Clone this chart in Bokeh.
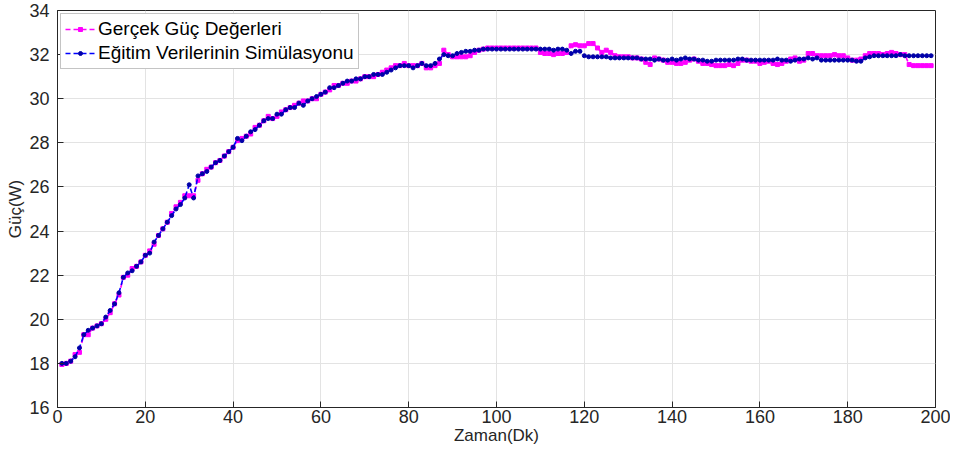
from bokeh.plotting import figure
from bokeh.models import ColumnDataSource, Range1d, FixedTicker, Legend, LegendItem
from bokeh.embed import file_html
from bokeh.resources import INLINE

# ---- data ----
zaman = list(range(1, 200))

gercek = [
    17.95, 18.0, 18.1, 18.4, 18.5, 19.3, 19.3, 19.6, 19.7, 19.8,
    20.0, 20.3, 20.7, 21.1, 21.9, 22.0, 22.3, 22.4, 22.6, 22.9,
    23.1, 23.4, 23.8, 24.1, 24.4, 24.8, 25.1, 25.3, 25.6, 25.6,
    25.6, 26.3, 26.6, 26.8, 26.9, 27.1, 27.2, 27.4, 27.6, 27.8,
    28.1, 28.2, 28.3, 28.4, 28.7, 28.8, 29.0, 29.2, 29.1, 29.2,
    29.4, 29.5, 29.6, 29.7, 29.8, 29.9, 29.9, 30.0, 30.0, 30.2,
    30.3, 30.4, 30.6, 30.6, 30.7, 30.7, 30.8, 30.8, 30.9, 31.0,
    31.0, 31.0, 31.1, 31.2, 31.3, 31.4, 31.5, 31.5, 31.6, 31.5,
    31.5, 31.5, 31.6, 31.4, 31.4, 31.5, 31.6, 32.2, 32.0, 31.9,
    31.9, 31.9, 31.9, 31.95, 32.1, 32.2, 32.25, 32.3, 32.3, 32.3,
    32.3, 32.3, 32.3, 32.3, 32.3, 32.3, 32.3, 32.3, 32.3, 32.1,
    32.05, 32.05, 32.0, 32.05, 32.05, 32.1, 32.4, 32.45, 32.4, 32.4,
    32.5, 32.5, 32.3, 32.1, 32.2, 32.1, 31.95, 31.9, 31.9, 31.9,
    31.85, 31.85, 31.8, 31.65, 31.55, 31.85, 31.8, 31.75, 31.65, 31.65,
    31.6, 31.6, 31.65, 31.75, 31.8, 31.7, 31.6, 31.6, 31.55, 31.5,
    31.5, 31.5, 31.55, 31.5, 31.6, 31.75, 31.75, 31.7, 31.7, 31.6,
    31.65, 31.7, 31.6, 31.55, 31.6, 31.7, 31.8, 31.85, 31.7, 31.75,
    32.05, 32.05, 31.95, 31.95, 31.95, 31.95, 32.0, 31.95, 31.95, 31.85,
    31.75, 31.75, 31.8, 31.95, 32.05, 32.05, 32.05, 32.0, 32.05, 32.1,
    32.05, 32.0, 32.0, 31.55, 31.5, 31.5, 31.5, 31.5, 31.5,
]

simulasyon = [
    18.0, 18.0, 18.1, 18.3, 18.7, 19.3, 19.5, 19.6, 19.7, 19.8,
    20.1, 20.4, 20.7, 21.2, 21.9, 22.1, 22.2, 22.4, 22.6, 22.9,
    23.0, 23.5, 23.8, 24.1, 24.4, 24.7, 25.0, 25.2, 25.5, 26.1,
    25.5, 26.5, 26.6, 26.7, 26.9, 27.1, 27.2, 27.4, 27.6, 27.8,
    28.2, 28.1, 28.3, 28.5, 28.6, 28.8, 29.0, 29.1, 29.1, 29.3,
    29.3, 29.5, 29.6, 29.6, 29.8, 29.7, 29.9, 30.0, 30.1, 30.2,
    30.3, 30.5, 30.5, 30.6, 30.7, 30.8, 30.8, 30.9, 30.9, 31.0,
    31.0, 31.1, 31.1, 31.1, 31.2, 31.3, 31.4, 31.5, 31.5, 31.5,
    31.4, 31.5, 31.6, 31.5, 31.5, 31.6, 31.8, 32.0, 31.95, 31.95,
    32.05, 32.1, 32.15, 32.15, 32.2, 32.2, 32.25, 32.25, 32.25, 32.25,
    32.25, 32.25, 32.25, 32.25, 32.25, 32.25, 32.25, 32.25, 32.25, 32.25,
    32.25, 32.25, 32.2, 32.25, 32.25, 32.2, 32.05, 32.15, 32.15, 31.95,
    31.9, 31.9, 31.9, 31.9, 31.9, 31.85, 31.85, 31.85, 31.85, 31.85,
    31.85, 31.85, 31.8, 31.8, 31.8, 31.75, 31.8, 31.75, 31.75, 31.8,
    31.75, 31.8, 31.85, 31.8, 31.8, 31.75, 31.75, 31.7, 31.7, 31.75,
    31.75, 31.75, 31.75, 31.75, 31.8, 31.8, 31.75, 31.75, 31.75, 31.75,
    31.75, 31.75, 31.75, 31.8, 31.75, 31.75, 31.7, 31.75, 31.8, 31.8,
    31.85, 31.8, 31.85, 31.75, 31.75, 31.75, 31.75, 31.75, 31.75, 31.75,
    31.75, 31.7, 31.7, 31.85, 31.9, 31.95, 31.95, 31.95, 31.95, 31.95,
    31.95, 32.0, 31.95, 31.95, 31.95, 31.95, 31.95, 31.95, 31.95,
]

x_ticks = [0, 20, 40, 60, 80, 100, 120, 140, 160, 180, 200]
y_ticks = [16, 18, 20, 22, 24, 26, 28, 30, 32, 34]

label_gercek = "Gerçek Güç Değerleri"
label_sim = "Eğitim Verilerinin Simülasyonu"
x_title = "Zaman(Dk)"
y_title = "Güç(W)"

MAGENTA = "#FF00FF"
BLUE_LINE = "#0000FF"
BLUE_MARK = "#0000A8"
AX = "#262626"
FONT = "Liberation Sans"

p = figure(width=950, height=452, output_backend="svg", toolbar_location=None,
           x_range=Range1d(0, 200), y_range=Range1d(16, 34),
           min_border_left=57, min_border_right=15, min_border_top=10, min_border_bottom=45)
p.outline_line_color = AX
p.outline_line_width = 1
p.background_fill_color = "white"
p.border_fill_color = "white"

src = ColumnDataSource(dict(x=zaman, g=gercek, s=simulasyon))

lg = p.line("x", "g", source=src, line_color=MAGENTA, line_width=1.6, line_dash="5 3")
mg = p.scatter("x", "g", source=src, marker="square", size=4, fill_color=MAGENTA, line_color=MAGENTA)
ls = p.line("x", "s", source=src, line_color=BLUE_LINE, line_width=1.6, line_dash="5 3")
ms = p.scatter("x", "s", source=src, marker="circle", size=4, fill_color=BLUE_MARK, line_color=BLUE_MARK)

for ax in (p.xaxis[0], p.yaxis[0]):
    ax.major_label_text_font = FONT
    ax.major_label_text_font_size = "18px"
    ax.major_label_text_color = AX
    ax.axis_label_text_font = FONT
    ax.axis_label_text_font_size = "17px"
    ax.axis_label_text_font_style = "normal"
    ax.axis_label_text_color = AX
    ax.axis_line_color = AX
    ax.major_tick_line_color = AX
    ax.major_tick_in = 6
    ax.major_tick_out = 0
    ax.minor_tick_line_color = None

p.xaxis[0].ticker = FixedTicker(ticks=x_ticks)
p.yaxis[0].ticker = FixedTicker(ticks=y_ticks)
p.xaxis[0].axis_label = x_title
p.yaxis[0].axis_label = y_title
p.xaxis[0].axis_label_standoff = 0
p.yaxis[0].axis_label_standoff = 1
p.xaxis[0].major_label_standoff = 2
p.yaxis[0].major_label_standoff = 8

p.grid.grid_line_color = "#e3e3e3"
p.grid.grid_line_width = 1
p.xgrid.ticker = FixedTicker(ticks=x_ticks)
p.ygrid.ticker = FixedTicker(ticks=y_ticks)

legend = Legend(items=[LegendItem(label=label_gercek, renderers=[lg, mg]),
                       LegendItem(label=label_sim, renderers=[ls, ms])],
                location="top_left")
legend.label_text_font = FONT
legend.label_text_font_size = "19px"
legend.label_text_color = "#000000"
legend.border_line_color = "#8a8a8a"
legend.border_line_width = 1
legend.background_fill_alpha = 1
legend.margin = 3
legend.padding = 4
legend.spacing = 2
legend.glyph_width = 30
legend.glyph_height = 10
legend.label_standoff = 3
legend.label_height = 22
p.add_layout(legend)

open("out.html", "w").write(file_html(p, INLINE))
